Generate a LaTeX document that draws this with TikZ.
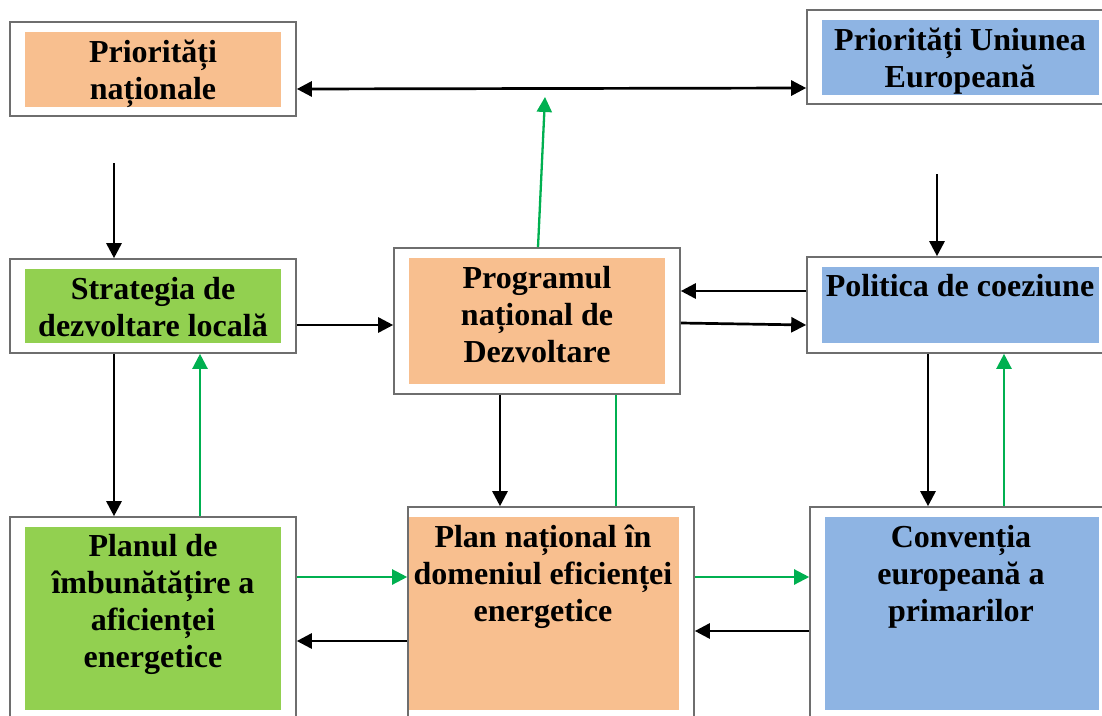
\documentclass[tikz,border=0pt]{standalone}
\usepackage{fontspec}
\setmainfont{Liberation Serif}
\usetikzlibrary{arrows.meta,calc}
\definecolor{orng}{HTML}{F8BF8F}
\definecolor{grn}{HTML}{92D050}
\definecolor{blu}{HTML}{8EB4E3}
\definecolor{agrn}{HTML}{00B050}
\definecolor{frm}{HTML}{6E6E6E}
\tikzset{
  frame/.style={draw=frm, line width=1.6pt, fill=white, inner sep=0pt},
  fillbox/.style={inner sep=0pt, draw=none},
  txt/.style={anchor=north, inner sep=0pt, align=center, font=\fontsize{32}{37}\selectfont\bfseries},
  arr/.style={line width=2.7pt, black, -{Triangle[length=15pt,width=15pt]}},
  garr/.style={line width=2.3pt, agrn, -{Triangle[length=15pt,width=15pt]}},
  gline/.style={line width=2.3pt, agrn}
}
\begin{document}
\begin{tikzpicture}[x=1pt,y=-1pt]
\useasboundingbox (0,0) rectangle (1102,715);
\clip (0,0) rectangle (1102,715);
% frames
\node[frame, minimum width=286pt, minimum height=94pt] (F1) at (153,69) {};
\node[frame, minimum width=313pt, minimum height=94pt] (F2) at (963.5,57) {};
\node[frame, minimum width=286pt, minimum height=94pt] (F3) at (153,306) {};
\node[frame, minimum width=286pt, minimum height=146pt] (F4) at (537,321) {};
\node[frame, minimum width=313pt, minimum height=96pt] (F5) at (963.5,305) {};
\node[frame, minimum width=286pt, minimum height=223pt] (F6) at (153,628.5) {};
\node[frame, minimum width=286pt, minimum height=233pt] (F7) at (551,623.5) {};
\node[frame, minimum width=310pt, minimum height=233pt] (F8) at (965,623.5) {};
% fills
\node[fillbox, fill=orng, minimum width=256pt, minimum height=75pt] (B1) at (153,69.5) {};
\node[fillbox, fill=blu, minimum width=277pt, minimum height=75pt] (B2) at (960.5,57.5) {};
\node[fillbox, fill=grn, minimum width=256pt, minimum height=74pt] (B3) at (153,306) {};
\node[fillbox, fill=orng, minimum width=256pt, minimum height=126pt] (B4) at (537,321) {};
\node[fillbox, fill=blu, minimum width=277pt, minimum height=76pt] (B5) at (960.5,305) {};
\node[fillbox, fill=grn, minimum width=256pt, minimum height=183pt] (B6) at (153,618.5) {};
\node[fillbox, fill=orng, minimum width=270pt, minimum height=193pt] (B7) at (544,613.5) {};
\node[fillbox, fill=blu, minimum width=274pt, minimum height=193pt] (B8) at (962,613.5) {};
% texts
\node[txt] (T1) at (153,36) {\strut Priorități\\ naționale};
\node[txt] (T2) at (960,24) {\strut Priorități Uniunea\\ Europeană};
\node[txt] (T3) at (153,273) {\strut Strategia de\\ dezvoltare locală};
\node[txt] (T4) at (537,262) {\strut Programul\\ național de\\ Dezvoltare};
\node[txt] (T5) at (960,270) {\strut Politica de coeziune};
\node[txt] (T6) at (153,530) {\strut Planul de\\ îmbunătățire a\\ aficienței\\ energetice};
\node[txt] (T7) at (543,521) {\strut Plan național în\\ domeniul eficienței\\ energetice};
\node[txt] (T8) at (961,521) {\strut Convenția\\ europeană a\\ primarilor};
% free ends
\coordinate (g1) at (545,97);
\coordinate (s1) at (114,163);
\coordinate (s2) at (937,174);
% connectors
\draw[arr, {Triangle[length=15pt,width=15pt]}-{Triangle[length=15pt,width=15pt]}] ($(F1.east)+(0,20)$) -- ($(F2.west)+(0,31)$);
\draw[garr] ($(F4.north)+(1,0)$) -- (g1);
\draw[arr] (s1) -- (s1 |- F3.north);
\draw[arr] (s2) -- (s2 |- F5.north);
\draw[arr] ($(F3.east)+(0,19)$) -- ($(F4.west)+(0,4)$);
\draw[arr] ($(F5.west)+(0,-14)$) -- ($(F4.east)+(0,-30)$);
\draw[arr] ($(F4.east)+(0,2)$) -- ($(F5.west)+(0,20)$);
\draw[arr] ($(F3.south)+(-39,0)$) -- ($(F6.north)+(-39,0)$);
\draw[garr] ($(F6.north)+(47,0)$) -- ($(F3.south)+(47,0)$);
\draw[garr] ($(F6.east)+(0,-51.5)$) -- ($(F7.west)+(0,-46.5)$);
\draw[arr] ($(F7.west)+(0,17.5)$) -- ($(F6.east)+(0,12.5)$);
\draw[arr] ($(F4.south)+(-37,0)$) -- ($(F7.north)+(-51,0)$);
\draw[gline] ($(F7.north)+(65,0)$) -- ($(F4.south)+(79,0)$);
\draw[garr] ($(F7.east)+(0,-46.5)$) -- ($(F8.west)+(0,-46.5)$);
\draw[arr] ($(F8.west)+(0,7.5)$) -- ($(F7.east)+(0,7.5)$);
\draw[arr] ($(F5.south)+(-35.5,0)$) -- ($(F8.north)+(-37,0)$);
\draw[garr] ($(F8.north)+(39,0)$) -- ($(F5.south)+(40.5,0)$);
\end{tikzpicture}
\end{document}
